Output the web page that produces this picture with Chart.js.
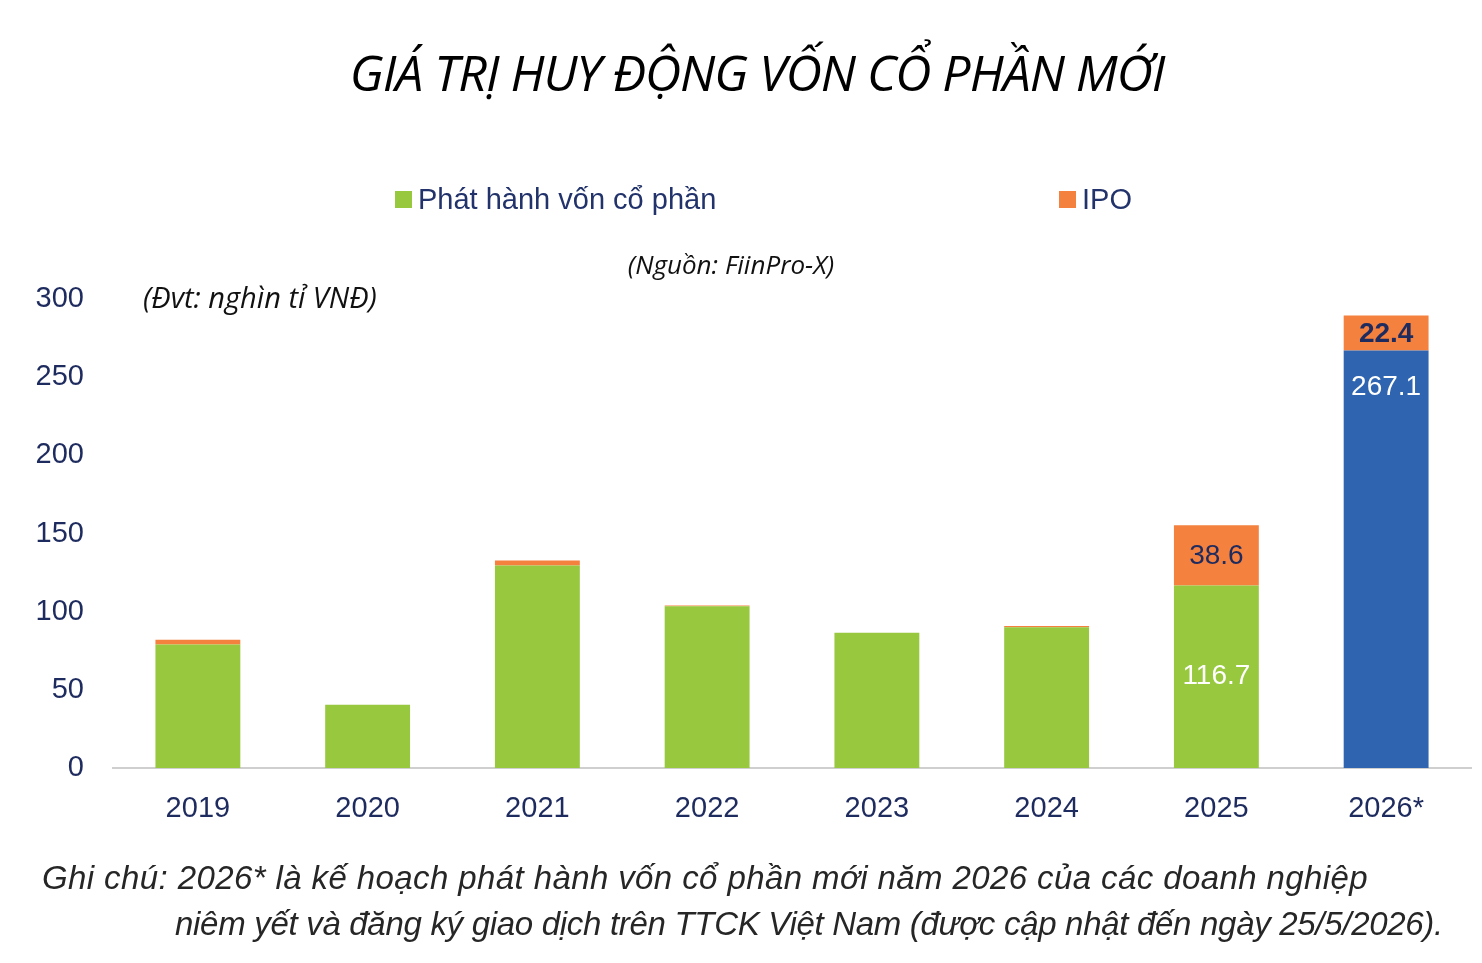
<!DOCTYPE html>
<html>
<head>
<meta charset="utf-8">
<script src="https://cdn.jsdelivr.net/npm/chart.js@4.4.1/dist/chart.umd.min.js"></script>
<style>
  body { margin: 0; background: #fff; width: 1482px; height: 963px; position: relative; overflow: hidden; }
  #wrap { position: absolute; left: 0; top: 0; width: 1482px; height: 963px; }
  .txt { position: absolute; white-space: nowrap; }
  #title { left: 0; width: 1514px; top: 38px; text-align: center; font: italic 50px "Open Sans", sans-serif; color: #000; letter-spacing: -1px; }
  .leg { top: 183px; font: 29px "Liberation Sans", Arial, sans-serif; color: #22336b; }
  .leg i { display: inline-block; width: 17px; height: 17px; margin-right: 6px; vertical-align: 1px; }
  #source { left: 0; width: 1462px; top: 246px; text-align: center; font: italic 26px "Open Sans", sans-serif; color: #111; }
  #unit { left: 143px; top: 277px; font: italic 29px "Open Sans", sans-serif; color: #111; }
  .note { font: italic 33px "Liberation Sans", sans-serif; color: #262626; }
</style>
</head>
<body>
<div id="wrap"><canvas id="chart" width="1482" height="963"></canvas></div>
<div class="txt" id="title">GIÁ TRỊ HUY ĐỘNG VỐN CỔ PHẦN MỚI</div>
<div class="txt leg" style="left:395px"><i style="background:#97c83e"></i>Phát hành vốn cổ phần</div>
<div class="txt leg" style="left:1059px"><i style="background:#f5813f"></i>IPO</div>
<div class="txt" id="source">(Nguồn: FiinPro-X)</div>
<div class="txt" id="unit">(Đvt: nghìn tỉ VNĐ)</div>
<div class="txt note" style="left:42px; top:859px; letter-spacing:0.4px">Ghi chú: 2026* là kế hoạch phát hành vốn cổ phần mới năm 2026 của các doanh nghiệp</div>
<div class="txt note" style="left:175px; top:905px; letter-spacing:-0.3px">niêm yết và đăng ký giao dịch trên TTCK Việt Nam (được cập nhật đến ngày 25/5/2026).</div>
<script>
const years = ["2019", "2020", "2021", "2022", "2023", "2024", "2025", "2026*"];
const equityIssue = [79, 40.5, 129.5, 103.5, 86.5, 90, 116.7, 267.1];
const ipo = [3, 0, 3.2, 0.4, 0, 0.8, 38.6, 22.4];
const yTicks = [0, 50, 100, 150, 200, 250, 300];
const labelledYears = ["2025", "2026*"];

const green = "#97c83e";
const orange = "#f5813f";
const blue = "#2e64b0";
const navy = "#1e2b5e";
const axisFont = { family: "'Liberation Sans', Arial, sans-serif", size: 29 };

const issueColors = years.map((y) => (y === "2026*" ? blue : green));

const valueLabels = {
  id: "valueLabels",
  afterDatasetsDraw(chart) {
    const ctx = chart.ctx;
    ctx.save();
    ctx.textAlign = "center";
    ctx.textBaseline = "middle";
    labelledYears.forEach((year) => {
      const i = years.indexOf(year);
      const planned = year === "2026*";

      const bar = chart.getDatasetMeta(0).data[i];
      ctx.fillStyle = "#ffffff";
      ctx.font = "28px 'Liberation Sans', Arial, sans-serif";
      const y1 = planned ? bar.y + 37 : (bar.y + bar.base) / 2;
      ctx.fillText(equityIssue[i].toFixed(1), bar.x, y1);

      const top = chart.getDatasetMeta(1).data[i];
      ctx.fillStyle = navy;
      ctx.font = (planned ? "bold " : "") + "28px 'Liberation Sans', Arial, sans-serif";
      ctx.fillText(ipo[i].toFixed(1), top.x, (top.y + top.base) / 2 + 1);
    });
    ctx.restore();
  },
};

new Chart(document.getElementById("chart"), {
  type: "bar",
  data: {
    labels: years,
    datasets: [
      {
        label: "Phát hành vốn cổ phần",
        data: equityIssue,
        backgroundColor: issueColors,
        categoryPercentage: 1,
        barPercentage: 0.5,
      },
      {
        label: "IPO",
        data: ipo,
        backgroundColor: orange,
        categoryPercentage: 1,
        barPercentage: 0.5,
      },
    ],
  },
  options: {
    responsive: false,
    animation: false,
    layout: { padding: { top: 299, right: 11, bottom: 135, left: 0 } },
    plugins: {
      legend: { display: false },
      tooltip: { enabled: false },
    },
    scales: {
      x: {
        stacked: true,
        grid: { display: false },
        border: { display: true, color: "#cfcfcf", width: 2 },
        ticks: { color: navy, font: axisFont, padding: 16 },
        afterFit: (scale) => { scale.height = 60; },
      },
      y: {
        stacked: true,
        min: 0,
        max: 300,
        grid: { display: false, drawTicks: false },
        border: { display: false },
        afterBuildTicks: (scale) => { scale.ticks = yTicks.map((v) => ({ value: v })); },
        ticks: { color: navy, font: axisFont, padding: 29 },
        afterFit: (scale) => { scale.width = 113; },
      },
    },
  },
  plugins: [valueLabels],
});
</script>
</body>
</html>
